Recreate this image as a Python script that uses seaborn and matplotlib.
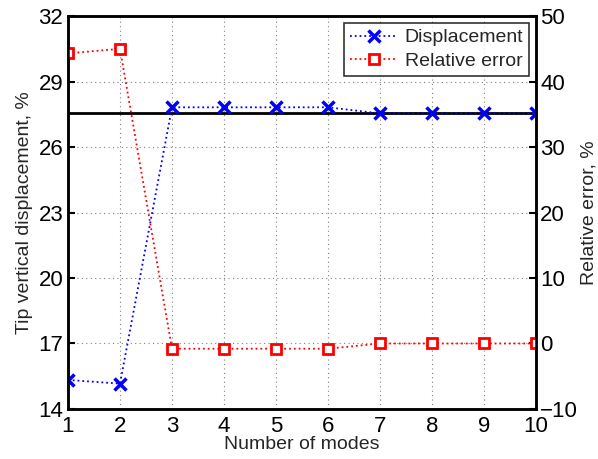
import pandas as pd
import matplotlib
matplotlib.use("Agg")
import matplotlib.pyplot as plt
import seaborn as sns

modes = [1, 2, 3, 4, 5, 6, 7, 8, 9, 10]
displacement = [15.33, 15.16, 27.82, 27.82, 27.82, 27.82, 27.54, 27.54, 27.54, 27.54]
rel_error = [44.3, 45.0, -0.8, -0.8, -0.8, -0.8, 0.0, 0.0, 0.0, 0.0]
reference = 27.54

df = pd.DataFrame({'modes': modes, 'disp': displacement, 'err': rel_error})

sns.set_style('white')
plt.rcParams['font.family'] = ['Liberation Sans', 'DejaVu Sans']

fig = plt.figure(figsize=(5.98, 4.59), dpi=100)
ax = fig.add_axes([0.1137, 0.109, 0.7826, 0.856])
ax2 = ax.twinx()

ax.axhline(reference, color='black', linewidth=2, zorder=1)
sns.lineplot(x='modes', y='disp', data=df, ax=ax, color='blue', linestyle=':',
             marker='x', markersize=9, markeredgewidth=2.5, markeredgecolor='blue',
             linewidth=1.3, label='Displacement', legend=False)
sns.lineplot(x='modes', y='err', data=df, ax=ax2, color='red', linestyle=':',
             marker='s', markersize=7, markerfacecolor='white', markeredgecolor='red',
             markeredgewidth=2, linewidth=1.3, label='Relative error', legend=False)

ax.set_xlim(1, 10)
ax.set_ylim(14, 32)
ax.set_xticks(modes)
ax.set_yticks([14, 17, 20, 23, 26, 29, 32])
ax2.set_ylim(-10, 50)
ax2.set_yticks([-10, 0, 10, 20, 30, 40, 50])

ax.grid(True, color='gray', linestyle=(0, (1, 3)), linewidth=0.8)
for a in (ax, ax2):
    for s in a.spines.values():
        s.set_linewidth(1.8)
        s.set_color('black')
    a.tick_params(direction='in', length=5, width=1.5, labelsize=16, colors='black')
ax.tick_params(axis='x', pad=5)
ax2.tick_params(axis='y', pad=3)

ax.set_xlabel('Number of modes', fontsize=14, labelpad=-1)
ax.set_ylabel('Tip vertical displacement, %', fontsize=14, labelpad=4)
ax2.set_ylabel('Relative error, %', fontsize=14, labelpad=2)

h1, l1 = ax.get_legend_handles_labels()
h2, l2 = ax2.get_legend_handles_labels()
leg = ax2.legend(h1 + h2, l1 + l2, loc='upper right', fontsize=14, frameon=True,
                 fancybox=False, edgecolor='black', borderpad=0.3, handlelength=2.4,
                 handletextpad=0.4, labelspacing=0.3, borderaxespad=0.35)
leg.get_frame().set_linewidth(1.2)

fig.savefig('out.png', dpi=100)
